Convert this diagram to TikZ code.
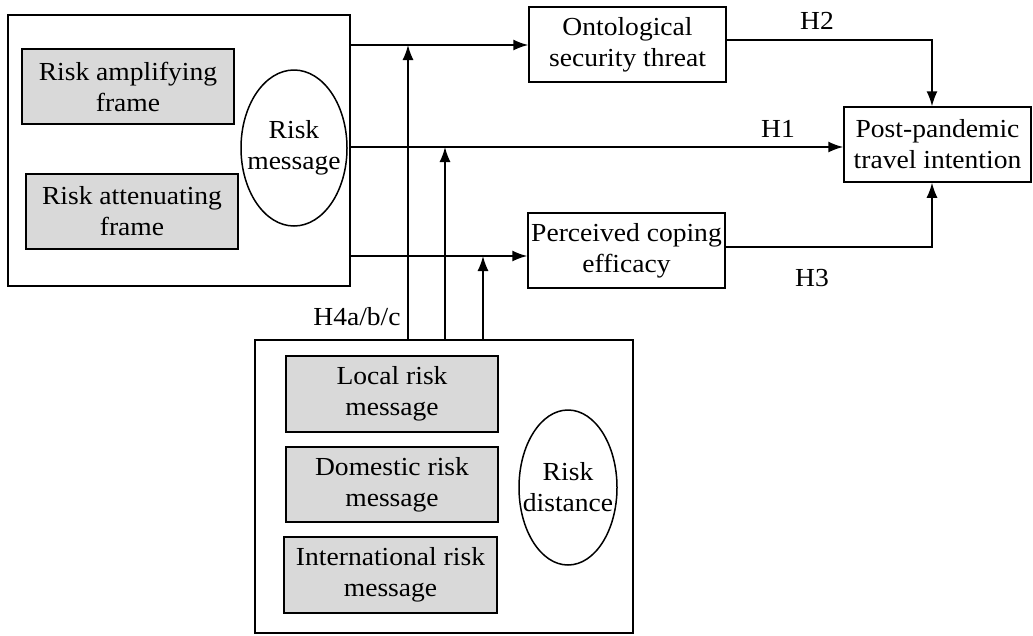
\documentclass[tikz,border=0pt]{standalone}
\usepackage{fontspec}
\setmainfont{Liberation Serif}[FakeStretch=1.06]
\usetikzlibrary{shapes.geometric,arrows.meta}
\begin{document}
\begin{tikzpicture}[x=1pt,y=-1pt,
  every node/.style={font=\fontsize{26}{31}\selectfont, inner sep=0pt, align=center},
  frame/.style={draw, line width=1.5pt, rectangle},
  graybox/.style={draw, line width=1.5pt, fill=gray!30, rectangle},
  oval/.style={draw, line width=1.5pt, ellipse},
  arr/.style={line width=1.5pt, -{Latex[length=15pt,width=11pt]}},
  lab/.style={font=\fontsize{26}{31}\selectfont}
]
\useasboundingbox (0,0) rectangle (1033,635);
% left group
\node[frame, minimum width=342, minimum height=271] (left) at (179,150.5) {};
\node[graybox, minimum width=212, minimum height=75] (amp) at (128,86.5) {Risk amplifying\\frame};
\node[graybox, minimum width=212, minimum height=75] (att) at (132,211.5) {Risk attenuating\\frame};
\node[oval, minimum width=106, minimum height=156,
  label={[align=center]center:Risk\\message}] (rm) at (294,148) {};
% middle boxes
\node[frame, minimum width=197, minimum height=75] (onto) at (627.5,44.5) {Ontological\\security threat};
\node[frame, minimum width=197, minimum height=75] (perc) at (626.5,250.5) {Perceived coping\\efficacy};
\node[frame, minimum width=187, minimum height=75] (post) at (937.5,144.5) {Post-pandemic\\travel intention};
% bottom group
\node[frame, minimum width=378, minimum height=293] (bot) at (444,486.5) {};
\node[graybox, minimum width=212, minimum height=76] (loc) at (392,394) {Local risk\\message};
\node[graybox, minimum width=212, minimum height=75] (dom) at (392,484.5) {Domestic risk\\message};
\node[graybox, minimum width=213, minimum height=76] (intl) at (390.5,575) {International risk\\message};
\node[oval, minimum width=98, minimum height=155,
  label={[align=center]center:Risk\\distance}] (rd) at (568,487.5) {};
% junction coordinates
\coordinate (j1) at (408,45);
\coordinate (j2) at (445,147);
\coordinate (j3) at (483,256);
\coordinate (c2) at (932,40);
\coordinate (c3) at (932,247);
% connectors
\draw[arr] (left.east |- j1) -- (onto.west |- j1);
\draw[arr] (left.east |- j2) -- (post.west |- j2);
\draw[arr] (left.east |- j3) -- (perc.west |- j3);
\draw[arr] (bot.north -| j1) -- (j1);
\draw[arr] (bot.north -| j2) -- (j2);
\draw[arr] (bot.north -| j3) -- (j3);
\draw[arr] (onto.east |- c2) -- (c2) -- (post.north -| c2);
\draw[arr] (perc.east |- c3) -- (c3) -- (post.south -| c3);
% labels
\node[lab] (h2) at (817,21) {H2};
\node[lab] (h1) at (778,129) {H1};
\node[lab] (h3) at (812,278) {H3};
\node[lab] (h4) at (357,317) {H4a/b/c};
\end{tikzpicture}
\end{document}
